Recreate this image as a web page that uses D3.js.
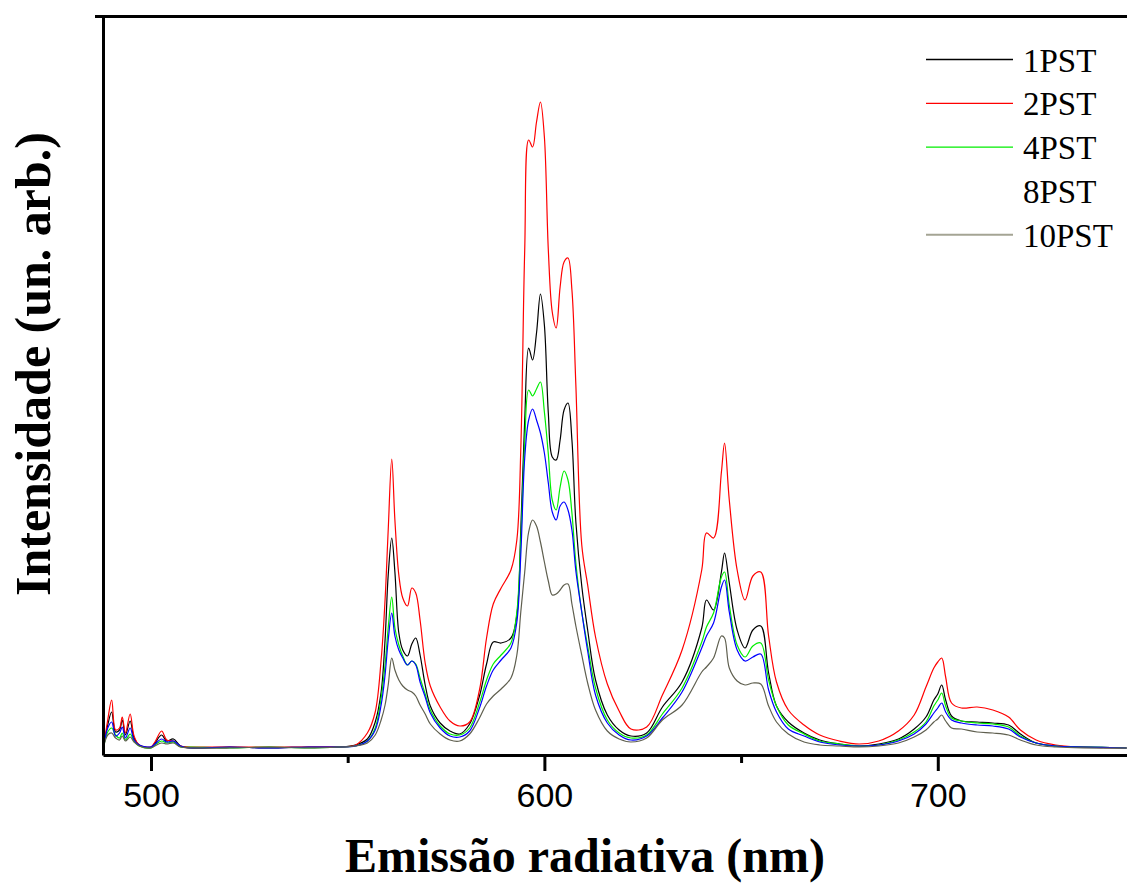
<!DOCTYPE html>
<html>
<head>
<meta charset="utf-8">
<script src="https://cdn.jsdelivr.net/npm/d3@7"></script>
<style>
  html, body { margin: 0; padding: 0; background: #fff; }
  svg { display: block; }
</style>
</head>
<body>
<div id="chart"></div>
<script>
// Emission spectra (arbitrary units) of the PST samples
const wavelengths = [
  488, 489, 490, 491, 492, 492.7, 493.5, 494.7, 495.7, 497,
  500, 501, 502.7, 504, 505.7, 507.5, 510, 520, 530, 540,
  548, 552, 555, 557, 558.5, 559.5, 560.3, 561.2, 562, 563,
  564, 565.2, 566.3, 567.3, 568.4, 569.7, 571, 573.5, 576, 578.5,
  581, 583.5, 585.3, 587, 589, 591.5, 593, 594, 595, 596,
  597, 598, 599, 600, 601, 602, 603, 604, 605, 606,
  607, 608, 609.5, 611, 613, 616, 619, 622, 626, 630,
  635, 640, 641.2, 643, 645, 645.8, 647, 649, 651, 653,
  655, 657, 659, 662, 666, 670, 675, 680, 685, 690,
  694, 697, 699, 700, 701, 702, 703.5, 706, 710, 714,
  718, 721, 725, 730, 737, 748
];

const pst1 = [
  2, 23, 36, 16, 18, 28, 13, 27, 10, 3,
  1, 5, 13, 7, 9, 2, 0, 1, 0, 1,
  1, 3, 9, 26, 56, 108, 173, 210, 176, 115,
  98, 92, 104, 110, 93, 63, 42, 25, 17, 14,
  24, 52, 84, 106, 105, 110, 133, 218, 328, 400,
  388, 415, 454, 423, 335, 291, 288, 308, 338, 345,
  308, 226, 162, 118, 68, 33, 18, 12, 15, 41,
  66, 120, 148, 138, 176, 195, 165, 118, 100, 118,
  122, 75, 42, 26, 15, 8, 4, 2, 4, 9,
  19, 31, 48, 54, 63, 48, 32, 27, 26, 25,
  23, 14, 5, 2, 1, 0
];

const pst2 = [
  2, 28, 48, 18, 20, 31, 15, 34, 12, 3,
  1, 6, 17, 8, 7, 2, 1, 1, 1, 1,
  1, 3, 15, 36, 88, 148, 218, 289, 228, 173,
  150, 142, 160, 155, 128, 85, 62, 41, 27, 22,
  26, 58, 110, 144, 160, 178, 208, 298, 498, 608,
  601, 626, 646, 611, 498, 436, 420, 461, 486, 490,
  458, 363, 203, 163, 111, 64, 37, 19, 21, 53,
  98, 178, 215, 210, 276, 305, 248, 178, 148, 172,
  176, 112, 66, 38, 23, 13, 7, 4, 7, 17,
  33, 61, 80, 86, 90, 71, 45, 40, 41, 38,
  31, 18, 8, 3, 1, 0
];

const pst4 = [
  2, 16, 20, 13, 10, 15, 8, 14, 7, 2,
  0, 3, 7, 5, 6, 1, 1, 0, 1, 0,
  1, 2, 7, 20, 50, 83, 120, 151, 120, 103,
  92, 83, 87, 84, 70, 54, 38, 22, 14, 13,
  20, 45, 68, 84, 93, 105, 136, 208, 305, 358,
  352, 359, 366, 336, 294, 248, 238, 261, 277, 268,
  235, 185, 136, 102, 60, 28, 15, 10, 13, 34,
  60, 106, 121, 135, 171, 176, 143, 103, 91, 102,
  105, 68, 42, 23, 14, 7, 4, 2, 3, 8,
  16, 26, 42, 48, 55, 42, 30, 27, 25, 24,
  21, 12, 5, 2, 1, 0
];

const pst8 = [
  2, 20, 26, 12, 15, 21, 10, 20, 8, 3,
  1, 4, 9, 6, 7, 2, 0, 1, 0, 1,
  1, 2, 7, 18, 43, 73, 108, 135, 112, 98,
  90, 83, 87, 83, 66, 51, 35, 20, 12, 11,
  17, 40, 62, 78, 88, 100, 126, 193, 290, 328,
  339, 328, 315, 295, 265, 236, 228, 242, 246, 238,
  218, 177, 136, 97, 53, 25, 13, 8, 12, 30,
  56, 100, 112, 125, 161, 168, 136, 98, 87, 91,
  94, 58, 36, 19, 12, 6, 3, 2, 3, 7,
  14, 24, 35, 40, 45, 36, 28, 25, 23, 22,
  19, 11, 5, 2, 1, 0
];

const pst10 = [
  2, 13, 15, 10, 8, 12, 7, 11, 6, 2,
  0, 2, 5, 4, 5, 1, 0, 0, 1, 0,
  1, 2, 5, 13, 28, 43, 63, 90, 78, 68,
  62, 58, 56, 52, 43, 34, 24, 14, 8, 7,
  14, 30, 44, 52, 59, 70, 93, 136, 176, 216,
  228, 222, 206, 186, 167, 153, 154, 158, 163, 164,
  144, 122, 93, 65, 38, 17, 9, 6, 10, 28,
  43, 76, 81, 90, 112, 110, 80, 67, 63, 65,
  64, 42, 26, 14, 6, 3, 2, 1, 2, 5,
  11, 18, 26, 29, 33, 27, 20, 19, 16, 15,
  13, 8, 3, 1, 0, 0
];

const seriesNames = ["1PST", "2PST", "4PST", "8PST", "10PST"];
const seriesValues = [pst1, pst2, pst4, pst8, pst10];
const seriesColors = ["#000000", "#ff0000", "#00ee00", "#0000ff", "#5f5f4f"];
const legendColors = ["#000000", "#ff0000", "#00ee00", "none", "#a4a494"];

const majorTicks = [500, 600, 700];
const minorTicks = [550, 650];

const W = 1127, H = 887;
const svg = d3.select("#chart").append("svg")
  .attr("width", W).attr("height", H)
  .style("background", "#fff");

const plot = { left: 103, right: 1127, top: 17, bottom: 755 };

const x = d3.scaleLinear().domain([487.8, 748.1]).range([plot.left, plot.right]);
const y = d3.scaleLinear().domain([-7, 731]).range([plot.bottom, plot.top]);

svg.append("defs").append("clipPath").attr("id", "plot-clip")
  .append("rect")
  .attr("x", plot.left + 1).attr("y", plot.top)
  .attr("width", plot.right - plot.left).attr("height", plot.bottom - plot.top - 1);

// spectra
const line = d3.line()
  .x((d, i) => x(wavelengths[i]))
  .y(d => y(d))
  .curve(d3.curveCatmullRom.alpha(0.5));

const gLines = svg.append("g").attr("clip-path", "url(#plot-clip)");
seriesValues.forEach((vals, k) => {
  gLines.append("path")
    .datum(vals)
    .attr("fill", "none")
    .attr("stroke", seriesColors[k])
    .attr("stroke-width", 1.2)
    .attr("stroke-linejoin", "round")
    .attr("d", line);
});

// axes
const axisStyle = g => {
  g.selectAll(".domain").attr("stroke", "#000").attr("stroke-width", 3);
  g.selectAll(".tick line").attr("stroke", "#000").attr("stroke-width", 3);
};

const gx = svg.append("g")
  .attr("transform", `translate(0,${plot.bottom})`)
  .call(d3.axisBottom(x).tickValues(majorTicks).tickSize(16).tickSizeOuter(0)
    .tickPadding(12).tickFormat(d3.format("d")))
  .call(axisStyle);
gx.selectAll(".tick text")
  .attr("font-family", "'Liberation Sans', Arial, sans-serif")
  .attr("font-size", 34)
  .attr("fill", "#000");

svg.append("g")
  .attr("transform", `translate(0,${plot.bottom})`)
  .call(d3.axisBottom(x).tickValues(minorTicks).tickSize(8).tickSizeOuter(0).tickFormat(""))
  .call(axisStyle)
  .call(g => g.select(".domain").remove());

svg.append("g")
  .attr("transform", `translate(${plot.left},0)`)
  .call(d3.axisLeft(y).tickValues([]).tickSizeOuter(0))
  .call(axisStyle);

svg.append("line")
  .attr("x1", plot.left - 8).attr("x2", plot.right)
  .attr("y1", plot.top - 0.5).attr("y2", plot.top - 0.5)
  .attr("stroke", "#000").attr("stroke-width", 3);

// axis titles
svg.append("text")
  .attr("x", 585).attr("y", 872)
  .attr("text-anchor", "middle")
  .attr("font-family", "'Liberation Serif', 'Times New Roman', serif")
  .attr("font-weight", "bold")
  .attr("font-size", 48)
  .text("Emissão radiativa (nm)");

svg.append("text")
  .attr("transform", "translate(50,364) rotate(-90)")
  .attr("text-anchor", "middle")
  .attr("font-family", "'Liberation Serif', 'Times New Roman', serif")
  .attr("font-weight", "bold")
  .attr("font-size", 50)
  .text("Intensidade (un. arb.)");

// legend
const legend = svg.append("g");
seriesNames.forEach((name, i) => {
  const ly = 59.5 + i * 43.8;
  if (legendColors[i] !== "none") {
    legend.append("line")
      .attr("x1", 926).attr("x2", 1013)
      .attr("y1", ly).attr("y2", ly)
      .attr("stroke", legendColors[i])
      .attr("stroke-width", i === 4 ? 2 : 1.3);
  }
  legend.append("text")
    .attr("x", 1023).attr("y", ly + 12)
    .attr("font-family", "'Liberation Serif', 'Times New Roman', serif")
    .attr("font-size", 33)
    .attr("fill", "#000")
    .text(name);
});
</script>
</body>
</html>
